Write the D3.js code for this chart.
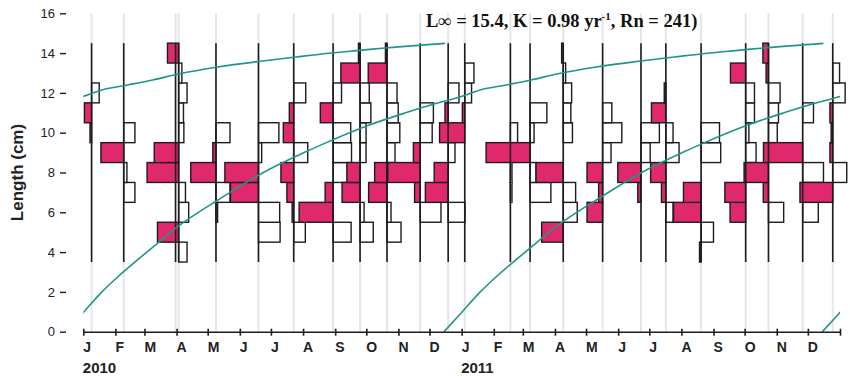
<!DOCTYPE html>
<html><head><meta charset="utf-8">
<script src="https://cdn.jsdelivr.net/npm/d3@7"></script>
<style>body{margin:0;background:#fff;} svg{display:block;}</style>
</head><body>
<svg id="chart" width="850" height="380"></svg>
<script>
// ---- data ----
const sampleDates = ["2010-01-09","2010-02-09","2010-03-31","2010-04-03","2010-05-09","2010-06-19",
  "2010-07-23","2010-08-30","2010-09-25","2010-10-21","2010-11-22","2010-12-19",
  "2011-01-04","2011-02-17","2011-03-08","2011-04-09","2011-05-17","2011-06-23",
  "2011-07-17","2011-08-20","2011-10-02","2011-10-24","2011-11-26","2011-12-25"];
const binMids = [4,5,6,7,8,9,10,11,12,13,14];
// restructured scores per sample, bins 4..14 (positive = pink, negative = white)
const s01 = [0,0,0,0,0,0,0.04,0.18,-0.19,0,0];
const s02 = [0,0,0,-0.28,-0.08,0.57,-0.28,0,0,0,0];
const s03 = [0,0,0,0,0,0,0,0,0,0,0];
const s04 = [-0.21,0.53,-0.25,-0.17,0.79,0.61,-0.13,-0.12,-0.21,-0.08,0.28];
const s05 = [0,0,-0.04,-0.35,0.63,0.08,-0.35,0,0,0,0];
const s06 = [0,-0.54,-0.53,0.7,0.84,-0.08,-0.51,0,0,0,0];
const s07 = [0,-0.29,0.04,0.17,0.32,-0.35,0.26,0.11,-0.3,0,0];
const s08 = [0,-0.45,0.85,0.2,-0.36,-0.46,-0.44,0.32,-0.21,0,0];
const s09 = [0,-0.33,-0.1,0.45,0.33,-0.15,-0.15,-0.27,-0.23,0.48,0.04];
const s10 = [0,-0.35,-0.1,0.46,0.31,-0.2,-0.32,-0.28,-0.25,0.47,0.04];
const s11 = [0,0,-0.52,0.14,0.81,0.17,-0.3,-0.33,0,0,0];
const s12 = [0,0,-0.42,0.57,0.35,-0.17,0,0.08,-0.27,0,0];
const s13 = [0,0,0,0,0,0,0.63,0.06,-0.17,-0.23,0];
const s14 = [0,0,0,-0.04,-0.04,0,-0.18,0,0,0,0];
const s15 = [0,0,0,-0.52,-0.15,1.1,-0.1,-0.42,0,0,0];
const s16 = [0,0.54,-0.35,-0.31,0.68,0,-0.23,-0.19,-0.21,-0.06,0.04];
const s17 = [0,0,0.39,0.1,0.39,-0.21,-0.48,-0.23,0,0,0];
const s18 = [0,0,0,0.08,0.58,-0.23,-0.46,0,0,0,0];
const s19 = [0,0,-0.18,0.11,0.38,-0.33,-0.18,0.36,0.04,0,0];
const s20 = [0.04,-0.31,0.69,0.44,0,-0.49,-0.46,0,0,0,0];
const s21 = [0,0,0.39,0.52,0,-0.26,-0.08,-0.22,-0.22,0.38,0];
const s22 = [0,0,-0.38,0.13,0.61,0,-0.22,-0.25,-0.29,0.06,0.14];
const s23 = [0,0,-0.39,0,-0.52,0.98,0,-0.27,0,0,0];
const s24 = [0,0,0,0.82,-0.35,0.07,0.04,0.07,-0.31,-0.17,0];
const scores = [s01,s02,s03,s04,s05,s06,s07,s08,s09,s10,s11,s12,s13,s14,s15,s16,s17,s18,s19,s20,s21,s22,s23,s24];

const yTicks = [0,2,4,6,8,10,12,14,16];
const monthLabels = ["J","F","M","A","M","J","J","A","S","O","N","D"];
const yearLabels = ["2010","2011"];
// growth curve: age (days since L=0) vs length (cm)
const growthAgeDays = [0,15,35,47,83,110,147,189,230,247,291,328,356,381,400,425,449,474,512,555,587,614,651,676,731];
const growthLength  = [0,0.85,2.0,2.6,4.2,5.35,6.62,7.95,9.0,9.4,10.35,11.0,11.45,11.81,12.15,12.4,12.65,12.95,13.3,13.6,13.8,13.97,14.15,14.27,14.49];
const cohortStarts = ["2008-12-15","2009-12-15","2010-12-15","2011-12-15"];

// ---- drawing ----
const svg = d3.select("#chart");
const parse = d3.utcParse("%Y-%m-%d");
const x = d3.scaleUtc().domain([parse("2010-01-01"), parse("2012-01-01")]).range([83.3, 840]);
const y = d3.scaleLinear().domain([0,16]).range([331.7, 13.3]);
const w = d3.scaleLinear().domain([0,1]).range([0,40]);
const PINK = "#e0296c", INK = "#1c1c1c", TEAL = "#1f968b";

// light grid lines at each sample
svg.append("g").selectAll("line").data(sampleDates).join("line")
  .attr("x1", d => x(parse(d))).attr("x2", d => x(parse(d)))
  .attr("y1", y(16)).attr("y2", y(0))
  .attr("stroke", "#e6e6e6").attr("stroke-width", 2);

// histogram bars
const bars = [];
scores.forEach((arr, i) => arr.forEach((v, j) => { if (v !== 0) bars.push({date: sampleDates[i], bin: binMids[j], v}); }));
svg.append("g").selectAll("rect").data(bars).join("rect")
  .attr("x", d => d.v > 0 ? x(parse(d.date)) - w(d.v) : x(parse(d.date)))
  .attr("width", d => w(Math.abs(d.v)))
  .attr("y", d => y(d.bin + 0.5))
  .attr("height", d => y(d.bin - 0.5) - y(d.bin + 0.5))
  .attr("fill", d => d.v > 0 ? PINK : "#fff")
  .attr("stroke", INK).attr("stroke-width", 1.4);

// sample baselines
svg.append("g").selectAll("line").data(sampleDates).join("line")
  .attr("x1", d => x(parse(d))).attr("x2", d => x(parse(d)))
  .attr("y1", y(binMids[binMids.length-1] + 0.5)).attr("y2", y(binMids[0] - 0.5))
  .attr("stroke", INK).attr("stroke-width", 1.6);

// growth curves
svg.append("clipPath").attr("id", "clip").append("rect")
  .attr("x", x.range()[0]).attr("y", 0).attr("width", x.range()[1] - x.range()[0]).attr("height", y(0) + 1);
const line = d3.line().x(d => x(d[0])).y(d => y(d[1])).curve(d3.curveMonotoneX);
svg.append("g").attr("clip-path", "url(#clip)").selectAll("path").data(cohortStarts).join("path")
  .attr("d", s => line(growthAgeDays.map((a, i) => [d3.utcDay.offset(parse(s), a), growthLength[i]])))
  .attr("fill", "none").attr("stroke", TEAL).attr("stroke-width", 1.6);

// x axis
const xAxis = d3.axisBottom(x).ticks(d3.utcMonth.every(1))
  .tickFormat(d => d.getUTCFullYear() > 2011 ? "" : monthLabels[d.getUTCMonth()]).tickSizeOuter(0);
const gx = svg.append("g").attr("transform", `translate(0,${y(0)})`).call(xAxis);
gx.select(".domain").attr("stroke", INK).attr("stroke-width", 1.6);
gx.selectAll(".tick line").attr("y1", -3).attr("y2", 4).attr("stroke", INK).attr("stroke-width", 1.6);
gx.selectAll(".tick text").attr("y", 20).attr("dy", null).attr("x", -0.5)
  .attr("text-anchor", "start").attr("fill", "#222")
  .style("font", "bold 14px 'Liberation Sans', Arial, sans-serif");
svg.append("g").selectAll("text").data(yearLabels).join("text")
  .attr("x", d => x(parse(d + "-01-01")) - 0.5).attr("y", 373)
  .attr("fill", "#222").style("font", "bold 15px 'Liberation Sans', Arial, sans-serif")
  .text(d => d);

// y axis
const yAxis = d3.axisLeft(y).tickValues(yTicks).tickSize(6).tickPadding(5);
const gy = svg.append("g").attr("transform", "translate(66,0)").call(yAxis);
gy.select(".domain").remove();
gy.selectAll(".tick line").attr("stroke", INK).attr("stroke-width", 1.4);
gy.selectAll(".tick text").attr("fill", "#222").style("font", "13px 'Liberation Sans', Arial, sans-serif");
svg.append("text").attr("transform", `translate(23,${(y(0)+y(16))/2}) rotate(-90)`)
  .attr("text-anchor", "middle").attr("fill", "#222")
  .style("font", "bold 17px 'Liberation Sans', Arial, sans-serif").text("Length (cm)");

// title
const t = svg.append("text").attr("x", 426).attr("y", 27)
  .style("font", "bold 18.5px 'Liberation Serif', 'Times New Roman', serif").attr("fill", "#111");
t.append("tspan").text("L\u221E = 15.4, K = 0.98 yr");
t.append("tspan").attr("dy", -7).style("font-size", "11px").text("-1");
t.append("tspan").attr("dy", 7).text(", Rn = 241)");
</script>
</body></html>
